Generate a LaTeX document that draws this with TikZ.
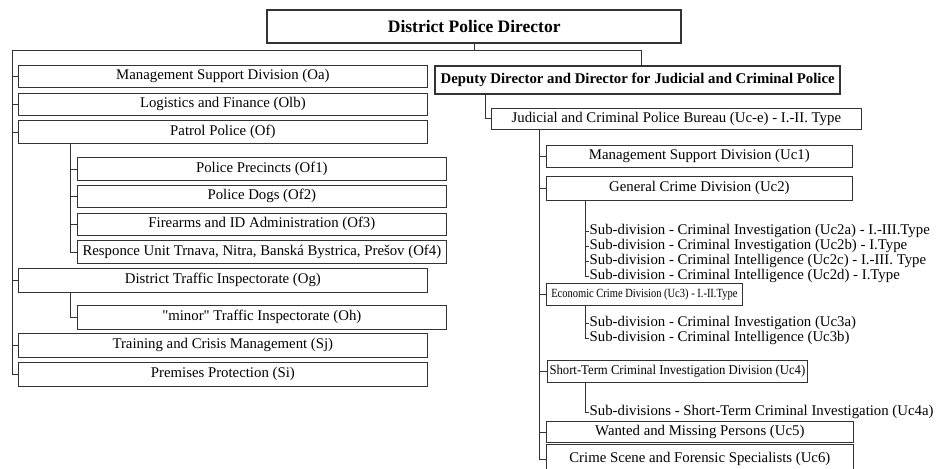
\documentclass[tikz,border=0pt]{standalone}
\usepackage{fontspec}
\setmainfont{Liberation Serif}
\begin{document}
\begin{tikzpicture}[x=1pt,y=-1pt,
  box/.style={draw=black!80, line width=0.7pt, inner sep=0pt, anchor=north west,
              font=\fontsize{14.8}{16}\selectfont},
  boss/.style={box, line width=2.4pt, font=\fontsize{14.8}{16}\selectfont\bfseries},
  lbl/.style={anchor=west, inner xsep=0.5pt, inner ysep=0pt, font=\fontsize{14.8}{16}\selectfont},
  conn/.style={draw=black!80, line width=0.7pt}]
\useasboundingbox (0,0) rectangle (944,468);

% top
\node[boss, minimum width=414pt, minimum height=33pt, font=\fontsize{17.5}{19}\selectfont\bfseries] (top) at (266,9) {District Police Director};

% left column
\node[box, minimum width=409pt, minimum height=22pt] (oa)  at (18,65)  {Management Support Division (Oa)};
\node[box, minimum width=409pt, minimum height=22pt] (olb) at (18,93)  {Logistics and Finance (Olb)};
\node[box, minimum width=409pt, minimum height=23pt] (of)  at (18,120) {Patrol Police (Of)};
\node[box, minimum width=369pt, minimum height=23pt] (of1) at (77,157) {Police Precincts (Of1)};
\node[box, minimum width=369pt, minimum height=22pt] (of2) at (77,185) {Police Dogs (Of2)};
\node[box, minimum width=369pt, minimum height=22pt] (of3) at (77,213) {Firearms and ID Administration (Of3)};
\node[box, minimum width=369pt, minimum height=23pt] (of4) at (77,240) {Responce Unit Trnava, Nitra, Banská Bystrica, Prešov (Of4)};
\node[box, minimum width=409pt, minimum height=24pt] (og)  at (18,268) {District Traffic Inspectorate (Og)};
\node[box, minimum width=369pt, minimum height=24pt] (oh)  at (77,305) {\textquotedbl minor\textquotedbl{} Traffic Inspectorate (Oh)};
\node[box, minimum width=409pt, minimum height=24pt] (sj)  at (18,333) {Training and Crisis Management (Sj)};
\node[box, minimum width=409pt, minimum height=24pt] (si)  at (18,362) {Premises Protection (Si)};

% right column
\node[boss, minimum width=405pt, minimum height=28pt] (dep) at (434,65) {Deputy Director and Director for Judicial and Criminal Police};
\node[box, minimum width=370pt, minimum height=21pt] (jud) at (491,108) {Judicial and Criminal Police Bureau (Uc-e) - I.-II. Type};
\node[box, minimum width=306pt, minimum height=22pt] (uc1) at (546,145) {Management Support Division (Uc1)};
\node[box, minimum width=306pt, minimum height=24pt] (uc2) at (546,176) {General Crime Division (Uc2)};
\node[lbl] (s2a) at (589,231) {Sub-division - Criminal Investigation (Uc2a) - I.-III.Type};
\node[lbl] (s2b) at (589,246) {Sub-division - Criminal Investigation (Uc2b) - I.Type};
\node[lbl] (s2c) at (589,261) {Sub-division - Criminal Intelligence (Uc2c) - I.-III. Type};
\node[lbl] (s2d) at (589,276) {Sub-division - Criminal Intelligence (Uc2d) - I.Type};
\node[box, minimum width=196pt, minimum height=22pt, font=\fontsize{12.5}{14}\selectfont] (uc3) at (546,283) {\scalebox{0.84}[1]{Economic Crime Division (Uc3) - I.-II.Type}};
\node[lbl] (s3a) at (589,323) {Sub-division - Criminal Investigation (Uc3a)};
\node[lbl] (s3b) at (589,338) {Sub-division - Criminal Intelligence (Uc3b)};
\node[box, minimum width=260pt, minimum height=22pt, font=\fontsize{13.5}{15}\selectfont] (uc4) at (547,360) {\scalebox{0.94}[1]{Short-Term Criminal Investigation Division (Uc4)}};
\node[lbl] (s4a) at (589,412) {Sub-divisions - Short-Term Criminal Investigation (Uc4a)};
\node[box, minimum width=307pt, minimum height=21pt] (uc5) at (546,421) {Wanted and Missing Persons (Uc5)};
\node[box, minimum width=307pt, minimum height=30pt] (uc6) at (546,444) {Crime Scene and Forensic Specialists (Uc6)};

% connectors
\coordinate (lx) at (12,50);
\coordinate (rx) at (641,50);
\coordinate (px) at (70,0);
\coordinate (dx) at (485,0);
\coordinate (jx) at (539,0);
\coordinate (sx) at (585,0);

\draw[conn] (top.south) -- (top.south |- lx);
\draw[conn] (lx) -- (rx) -- (rx |- dep.north);
\draw[conn] (lx) |- (si.west);
\foreach \n in {oa,olb,of,og,sj} \draw[conn] (lx |- \n.west) -- (\n.west);

\draw[conn] (px |- of.south) |- (of4.west);
\foreach \n in {of1,of2,of3} \draw[conn] (px |- \n.west) -- (\n.west);
\draw[conn] (px |- og.south) |- (oh.west);

\draw[conn] (dx |- dep.south) |- (jud.west);
\draw[conn] (jx |- jud.south) |- (uc6.west);
\foreach \n in {uc1,uc2,uc3,uc4,uc5} \draw[conn] (jx |- \n.west) -- (\n.west);

\draw[conn] (sx |- uc2.south) |- (s2d.west);
\foreach \n in {s2a,s2b,s2c} \draw[conn] (sx |- \n.west) -- (\n.west);
\draw[conn] (sx |- uc3.south) |- (s3b.west);
\draw[conn] (sx |- s3a.west) -- (s3a.west);
\draw[conn] (sx |- uc4.south) |- (s4a.west);
\end{tikzpicture}
\end{document}
